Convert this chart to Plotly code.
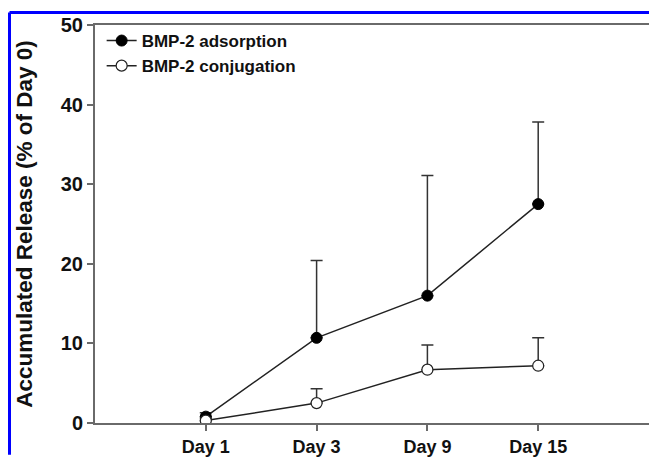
import plotly.graph_objects as go

categories = ["Day 1", "Day 3", "Day 9", "Day 15"]
adsorption = [0.8, 10.7, 16.0, 27.5]
adsorption_err = [0.5, 9.7, 15.1, 10.3]
conjugation = [0.3, 2.5, 6.7, 7.2]
conjugation_err = [0.3, 1.8, 3.1, 3.5]
y_ticks = [0, 10, 20, 30, 40, 50]

LINE = "#222222"
AX = "#6a6a6a"
FONT = "Liberation Sans, Arial, sans-serif"

fig = go.Figure()
fig.add_trace(go.Scatter(
    x=categories, y=adsorption, name="BMP-2 adsorption", mode="lines+markers",
    line=dict(color=LINE, width=1.5),
    marker=dict(symbol="circle", size=11, color="black", line=dict(color="black", width=1)),
    error_y=dict(type="data", symmetric=False, array=adsorption_err,
                 arrayminus=[0] * len(adsorption_err), color="#333333", thickness=1.5, width=6),
))
fig.add_trace(go.Scatter(
    x=categories, y=conjugation, name="BMP-2 conjugation", mode="lines+markers",
    line=dict(color=LINE, width=1.5),
    marker=dict(symbol="circle", size=11, color="white", line=dict(color="#222222", width=1.2)),
    error_y=dict(type="data", symmetric=False, array=conjugation_err,
                 arrayminus=[0] * len(conjugation_err), color="#333333", thickness=1.5, width=6),
))

fig.update_layout(
    width=649, height=457,
    margin=dict(l=95, r=0, t=25, b=32),
    paper_bgcolor="white", plot_bgcolor="white",
    font=dict(family=FONT, color="#111111"),
    showlegend=True,
    legend=dict(x=0.012, y=1.005, xanchor="left", yanchor="top",
                bgcolor="rgba(0,0,0,0)", font=dict(size=17, family=FONT, weight="bold"),
                tracegroupgap=0, itemwidth=30),
    xaxis=dict(type="category", categoryorder="array", categoryarray=categories,
               range=[-1, 4], showline=True, linecolor=AX, linewidth=2, mirror=True,
               ticks="outside", ticklen=6, tickwidth=1.5, tickcolor=AX,
               showgrid=False, zeroline=False,
               tickfont=dict(size=18, family=FONT, weight="bold")),
    yaxis=dict(range=[0, 50], tickvals=y_ticks, showline=True, linecolor=AX, linewidth=2,
               ticks="outside", ticklen=6, tickwidth=1.5, tickcolor=AX,
               showgrid=False, zeroline=False,
               tickfont=dict(size=20, family=FONT, weight="bold"),
               title=dict(text="Accumulated Release (% of Day 0)", standoff=22,
                          font=dict(size=22.5, family=FONT, weight="bold"))),
)

# blue frame (top and left) of the original figure panel
fig.add_shape(type="line", xref="paper", yref="paper",
              x0=(9.5 - 95) / 554, x1=1.0, y0=1 + 12.5 / 400, y1=1 + 12.5 / 400,
              line=dict(color="#0000ff", width=3))
fig.add_shape(type="line", xref="paper", yref="paper",
              x0=(9.5 - 95) / 554, x1=(9.5 - 95) / 554, y0=1 + 12.5 / 400, y1=-32 / 400,
              line=dict(color="#0000ff", width=3))

fig.write_html("out.html", config={"displayModeBar": False},
               post_script="document.body.style.margin='0';document.body.style.overflow='hidden';")
